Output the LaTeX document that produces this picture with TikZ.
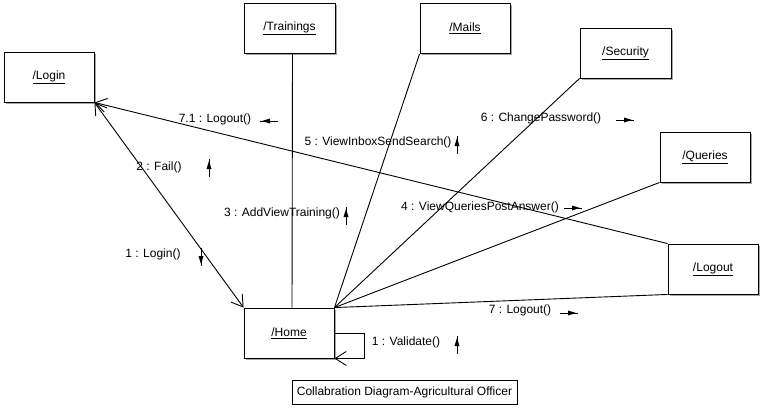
\documentclass[tikz,border=0pt]{standalone}
\usepackage{fontspec}
\setmainfont{Liberation Sans}
\usetikzlibrary{arrows.meta}
\usetikzlibrary{positioning}
\usetikzlibrary{shadows}

\tikzset{
    object/.style={
        rectangle, draw=black, line width=0.9pt, fill=white,
        minimum width=90pt, minimum height=50pt,
        drop shadow={shadow xshift=1.5pt, shadow yshift=-1.5pt, fill=black!35, opacity=1},
    },
    message/.style={inner sep=0pt, text=black},
    link/.style={draw=black, line width=0.9pt},
    msgarrow/.pic={
        \draw[line width=0.9pt] (-9,0) -- (9,0);
        \fill (7,0) -- (-1,-2.5) -- (-1,2.5) -- cycle;
    },
}

\begin{document}
\begin{tikzpicture}[
        x=1pt, y=-1pt,
        font=\fontsize{12}{14}\selectfont,
        >={Straight Barb[length=11pt,width=14pt]},
    ]
        \useasboundingbox (0,0) rectangle (762,408);

        % objects
        \node (login) at(49,77) [object] {\underline{/Login}};
        \node (trainings) at(289.5,28.5) [object, minimum width=91pt] {\underline{/Trainings}};
        \node (mails) at(465,28.5) [object] {\underline{/Mails}};
        \node (security) at(625.5,53) [object, minimum width=91pt] {\underline{/Security}};
        \node (queries) at(705,157) [object] {\underline{/Queries}};
        \node (logout) at(713,269) [object] {\underline{/Logout}};
        \node (home) at(289,333) [object] {\underline{/Home}};

        \node (caption) at(404.5,392) [
            rectangle, draw=black, line width=0.9pt,
            minimum width=225pt, minimum height=24pt, inner sep=0pt,
        ] {Collabration Diagram-Agricultural Officer};

        % links
        \draw[link, <->] (login.south east) -- (home.north west);
        \draw[link, ->] (logout.north west) -- (login.south east);
        \draw[link] ([xshift=3pt]trainings.south) -- ([xshift=3pt]home.north);
        \draw[link] (mails.south west) -- (home.north east);
        \draw[link] (security.south west) -- (home.north east);
        \draw[link] (queries.south west) -- (home.north east);
        \draw[link] (logout.south west) -- (home.north east);
        \draw[link, ->] (home.east) -- ++(30,0) |- (home.south east);

        % messages
        \node (msgLogout71) at(215,119) [message] {7.1 : Logout()};
        \pic[rotate=180] at(269,121) {msgarrow};
        \node (msgFail) at(159,167) [message] {2 : Fail()};
        \pic[rotate=90] at(209,168) {msgarrow};
        \node (msgLogin) at(153,254) [message] {1 : Login()};
        \pic[rotate=-90] at(201,257) {msgarrow};
        \node (msgTraining) at(282,213) [message] {3 : AddViewTraining()};
        \pic[rotate=90] at(346,216) {msgarrow};
        \node (msgMails) at(378,142) [message] {5 : ViewInboxSendSearch()};
        \pic[rotate=90] at(457,145) {msgarrow};
        \node (msgSecurity) at(541,118) [message] {6 : ChangePassword()};
        \pic at(625,120) {msgarrow};
        \node (msgQueries) at(480,207) [message] {4 : ViewQueriesPostAnswer()};
        \pic at(573,208) {msgarrow};
        \node (msgLogout7) at(520,310) [message] {7 : Logout()};
        \pic at(569,313) {msgarrow};
        \node (msgValidate) at(406,342) [message] {1 : Validate()};
        \pic[rotate=90] at(457,345) {msgarrow};
    \end{tikzpicture}
\end{document}
